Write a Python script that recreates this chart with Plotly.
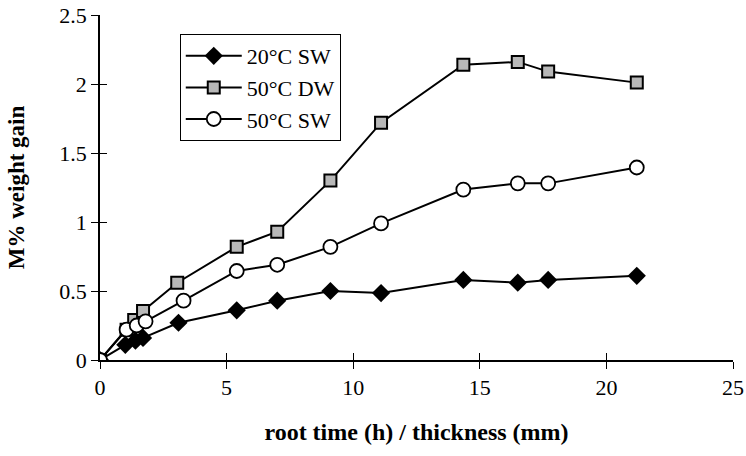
import plotly.graph_objects as go

# Weight-gain measurements (M %) against root time (h) / thickness (mm)
x_20sw = [0, 1.0, 1.4, 1.7, 3.1, 5.4, 7.0, 9.1, 11.1, 14.35, 16.5, 17.7, 21.2]
y_20sw = [0, 0.11, 0.14, 0.16, 0.27, 0.36, 0.43, 0.50, 0.485, 0.58, 0.56, 0.58, 0.61]

x_50dw = [0, 1.05, 1.35, 1.7, 3.05, 5.4, 7.0, 9.1, 11.1, 14.35, 16.5, 17.7, 21.2]
y_50dw = [0, 0.22, 0.29, 0.355, 0.56, 0.82, 0.93, 1.30, 1.72, 2.14, 2.16, 2.09, 2.01]

x_50sw = [0, 1.05, 1.45, 1.8, 3.3, 5.4, 7.0, 9.1, 11.1, 14.35, 16.5, 17.7, 21.2]
y_50sw = [0, 0.22, 0.25, 0.28, 0.43, 0.645, 0.69, 0.82, 0.99, 1.235, 1.28, 1.28, 1.395]

x_ticks = [0, 5, 10, 15, 20, 25]
y_ticks = [0, 0.5, 1, 1.5, 2, 2.5]
y_tick_text = ["0", "0.5", "1", "1.5", "2", "2.5"]

FONT = "Liberation Serif, Times New Roman, serif"

fig = go.Figure()

fig.add_trace(go.Scatter(
    x=x_20sw, y=y_20sw, name="20°C SW", mode="lines+markers",
    line=dict(color="black", width=2),
    marker=dict(symbol="diamond", size=14, color="black"),
))
fig.add_trace(go.Scatter(
    x=x_50dw, y=y_50dw, name="50°C DW", mode="lines+markers",
    line=dict(color="black", width=2),
    marker=dict(symbol="square", size=12, color="#b8b8b8",
                line=dict(color="black", width=2)),
))
fig.add_trace(go.Scatter(
    x=x_50sw, y=y_50sw, name="50°C SW", mode="lines+markers",
    line=dict(color="black", width=2),
    marker=dict(symbol="circle", size=14, color="white",
                line=dict(color="black", width=1.8)),
))
# Empty trace so the overlaid axes (inner half of the cross ticks) get drawn
fig.add_trace(go.Scatter(x=[None], y=[None], xaxis="x2", yaxis="y2",
                         showlegend=False, hoverinfo="skip"))

axis_common = dict(showgrid=False, zeroline=False, showline=True,
                   linecolor="black", linewidth=1.5, tickcolor="black",
                   tickwidth=1.3, ticklen=7, automargin=False)

fig.update_layout(
    width=746, height=456,
    margin=dict(l=100, r=13, t=15, b=96),
    paper_bgcolor="white", plot_bgcolor="white",
    font=dict(family=FONT, color="black", size=22),
    showlegend=True,
    legend=dict(x=0.126, y=0.945, xanchor="left", yanchor="top",
                bgcolor="white", bordercolor="black", borderwidth=1,
                font=dict(family=FONT, size=22), tracegroupgap=0,
                itemwidth=56),
    xaxis=dict(range=[0, 25], tickvals=x_ticks, ticks="outside",
               tickfont=dict(family=FONT, size=22),
               title=dict(text="<b>root time (h) / thickness (mm)</b>",
                          font=dict(family=FONT, size=24), standoff=24),
               **axis_common),
    yaxis=dict(range=[0, 2.5], tickvals=y_ticks, ticktext=y_tick_text,
               ticks="outside", tickfont=dict(family=FONT, size=22),
               title=dict(text="<b>M% weight gain</b>",
                          font=dict(family=FONT, size=23), standoff=28),
               **axis_common),
    xaxis2=dict(range=[0, 25], tickvals=x_ticks, ticks="inside",
                showticklabels=False, overlaying="x", anchor="y2",
                **axis_common),
    yaxis2=dict(range=[0, 2.5], tickvals=y_ticks, ticks="inside",
                showticklabels=False, overlaying="y", anchor="x2",
                **axis_common),
)

fig.write_html("out.html")
